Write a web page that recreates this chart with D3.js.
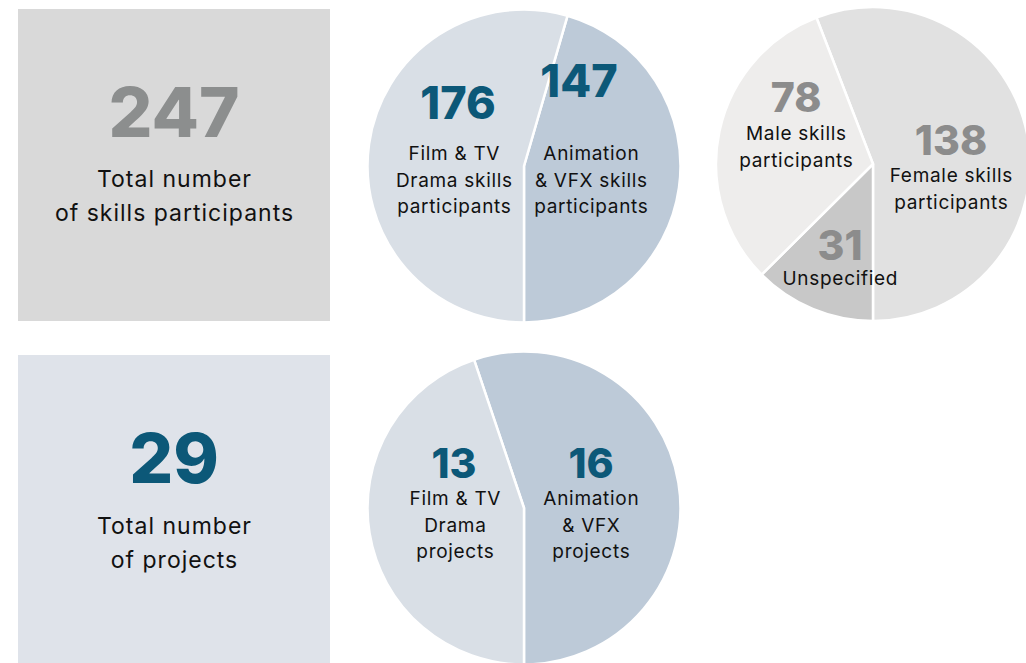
<!DOCTYPE html>
<html>
<head>
<meta charset="utf-8">
<script src="https://cdn.jsdelivr.net/npm/d3@7"></script>
<style>
  body { margin: 0; background: #ffffff; }
  svg { display: block; }
  .num { font-family: Inter, "Noto Sans", sans-serif; font-weight: 800; }
  .lbl { font-family: Inter, "Noto Sans", sans-serif; font-weight: 400; fill: #111111; }
</style>
</head>
<body>
<svg id="chart" width="1026" height="663"></svg>
<script>
// ---------- data ----------
const totalParticipants = 247;
const totalProjects = 29;

const participantCategories = ["Animation & VFX skills participants", "Film & TV Drama skills participants"];
const participantValues = [147, 176];

const genderCategories = ["Female skills participants", "Unspecified", "Male skills participants"];
const genderValues = [138, 31, 78];

const projectCategories = ["Animation & VFX projects", "Film & TV Drama projects"];
const projectValues = [16, 13];

// label lines (text content)
const participantLabelLines = [["Animation", "& VFX skills", "participants"], ["Film & TV", "Drama skills", "participants"]];
const genderLabelLines = [["Female skills", "participants"], ["Unspecified"], ["Male skills", "participants"]];
const projectLabelLines = [["Animation", "& VFX", "projects"], ["Film & TV", "Drama", "projects"]];
const boxLines1 = ["Total number", "of skills participants"];
const boxLines2 = ["Total number", "of projects"];

// ---------- styling ----------
const blue = "#0c5878";
const grayNum = "#8c8e8e";
const svg = d3.select("#chart");

// ---------- boxes ----------
function box(x, y, w, h, fill, value, valueColor, lines, numBaseline, lineBaselines) {
  const g = svg.append("g");
  g.append("rect").attr("x", x).attr("y", y).attr("width", w).attr("height", h).attr("fill", fill);
  g.append("text").attr("class", "num").attr("x", x + w / 2).attr("y", numBaseline)
    .attr("text-anchor", "middle").attr("font-size", 69).attr("fill", valueColor).text(value);
  g.selectAll("text.lbl").data(lines).join("text").attr("class", "lbl")
    .attr("x", x + w / 2 + 0.5).attr("y", (d, i) => lineBaselines[i])
    .attr("text-anchor", "middle").attr("font-size", 23).attr("letter-spacing", 1.0).text(d => d);
}
box(18, 9, 312, 312, "#d9d9d9", totalParticipants, grayNum, boxLines1, 137, [187, 221]);
box(18, 355, 312, 308, "#dfe3ea", totalProjects, blue, boxLines2, 483, [534, 568]);

// ---------- pies ----------
function pie(cx, cy, r, values, colors, numColor, numSize, labels, numPos, lineSpacing, labelLines) {
  const total = d3.sum(values);
  const start = Math.PI - 2 * Math.PI * values[0] / total;
  const arcs = d3.pie().sort(null).value(d => d).startAngle(start).endAngle(start + 2 * Math.PI)(values);
  const arc = d3.arc().innerRadius(0).outerRadius(r);
  const g = svg.append("g").attr("transform", `translate(${cx},${cy})`);
  g.selectAll("path").data(arcs).join("path")
    .attr("d", arc).attr("fill", (d, i) => colors[i])
    .attr("stroke", "#ffffff").attr("stroke-width", 2.5).attr("stroke-linejoin", "round");
  const lg = svg.append("g");
  values.forEach((v, i) => {
    const p = numPos[i];
    lg.append("text").attr("class", "num").attr("x", p[0]).attr("y", p[1])
      .attr("text-anchor", "middle").attr("font-size", numSize).attr("fill", numColor).text(v);
    labelLines[i].forEach((t, j) => {
      lg.append("text").attr("class", "lbl").attr("x", p[3] + 0.35).attr("y", p[2] + j * lineSpacing)
        .attr("text-anchor", "middle").attr("font-size", 19).attr("letter-spacing", 0.7).text(t);
    });
  });
}

// positions: [x of number, baseline of number, baseline of first label line, x of label]
pie(524, 166, 156.5, participantValues, ["#bdcad8", "#d9dfe6"], blue, 45,
  participantCategories, [[579, 97, 160, 591], [458, 119, 160, 454]], 26.5, participantLabelLines);

pie(873, 164, 157, genderValues, ["#e1e1e1", "#c8c8c8", "#eeedec"], "#8c8c8c", 41,
  genderCategories, [[951, 155, 182, 951], [840, 260, 285, 840], [796, 112, 140, 796]], 26.5, genderLabelLines);

pie(524, 508, 156.5, projectValues, ["#bdcad8", "#d9dfe6"], blue, 41,
  projectCategories, [[591, 478, 505, 591], [454, 478, 505, 455]], 26.5, projectLabelLines);
</script>
</body>
</html>
